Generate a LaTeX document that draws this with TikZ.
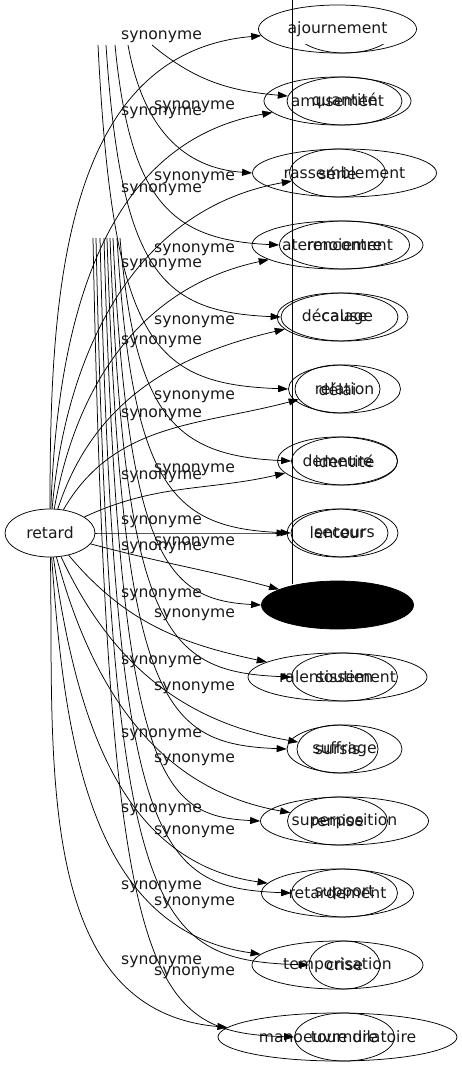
\documentclass[tikz,border=0pt]{standalone}
\usepackage{fontspec}
\setmainfont{DejaVu Sans}
\usetikzlibrary{shapes.geometric,arrows.meta}

\tikzset{
  syn/.style={ellipse,draw,inner sep=0pt,minimum height=48pt,line width=0.75pt,
    font=\fontsize{15.6}{18}\selectfont,text=black!90},
  lbl/.style={inner sep=0pt,font=\fontsize{15.6}{18}\selectfont,text=black!90},
  edge/.style={-{Triangle[length=10pt,width=7pt]},line width=0.75pt},
}

\begin{document}
\begin{tikzpicture}[x=1pt,y=1pt]
	\useasboundingbox (0,0) rectangle (461,-1067);

	\node[syn,minimum width=90pt] (retard) at (50,-533) {retard};

	% second graph, under the first
	\foreach \i/\w/\word [evaluate=\i as \yy using -29-72*(\i-1)] in
		{2/115/quantité,3/184/rassemblement,4/130/rencontre,5/127/cause,
		 6/112/relation,7/106/identité,8/107/secours,10/106/soutien,
		 11/115/suffrage,12/168/superposition,13/106/support,14/71/crise,15/100/tournure}
		\node[syn,minimum width=\w pt] (s\i) at (344.5,\yy) {\word};
	\begin{scope}
		\clip (0,-45) rectangle (461,-60);
		\draw[line width=0.75pt] (344.5,-29) ellipse [x radius=50,y radius=24];
	\end{scope}

	% synonymes of retard
	\foreach \i/\w/\word [evaluate=\i as \yy using -29-72*(\i-1)] in
		{1/158/ajournement,2/147/amusement,3/96/série,4/171/atermoiement,
		 5/121/décalage,6/85/délai,7/120/demeure,8/101/lenteur,
		 10/179/ralentissement,11/81/sursis,12/100/remise,13/152/retardement,
		 14/171/temporisation,15/239/manoeuvre dilatoire}
		\node[syn,minimum width=\w pt] (r\i) at (337.5,\yy) {\word};
	\node[syn,minimum width=152pt,fill=black] (r9) at (337.5,-605) {};

	\draw[line width=0.75pt] (292.5,0) -- (292.5,-584);

	\foreach \i/\o/\n in {1/90/185,2/88/190,3/85/190,4/80/192,5/72/193,6/60/195,
		7/25/193,8/0/180,9/-15/165,10/-50/168,11/-65/170,12/-75/170,
		13/-82/172,14/-86/172,15/-89/175}
		\draw[edge] (retard) to[out=\o,in=\n] (r\i);

	\coordinate (t2) at (152,-45);
	\draw[edge] (t2) to[out=-40,in=175] (s2);
	\foreach \i/\xa/\ya/\tgt [evaluate=\i as \yt using 29+72*(\i-1)] in
		{3/128/45/s3,4/115/45/s4,5/106/45/s5,6/98/45/s6,
		 7/120/238/s7,8/117/238/s8,9/113/238/r9,10/110/238/s10,11/107/238/s11,
		 12/104/238/s12,13/100/238/s13,14/96/238/s14,15/93/238/s15}
	{
		\coordinate (t\i) at (\xa,-\ya);
		\draw[edge] (t\i) .. controls (\xa+15,-\yt+45) and (\xa+55,-\yt+5) .. (\tgt.west);
	}

	\foreach \y in {37,113,190,265,342,415,477,522,548,595,662,735,810,887,962}
		\node[lbl] (la\y) at (161.5,-\y) {synonyme};
	\foreach \y in {107,178,250,322,397,470,543,615,688,760,832,903,973}
		\node[lbl] (lb\y) at (194.5,-\y) {synonyme};
\end{tikzpicture}
\end{document}
